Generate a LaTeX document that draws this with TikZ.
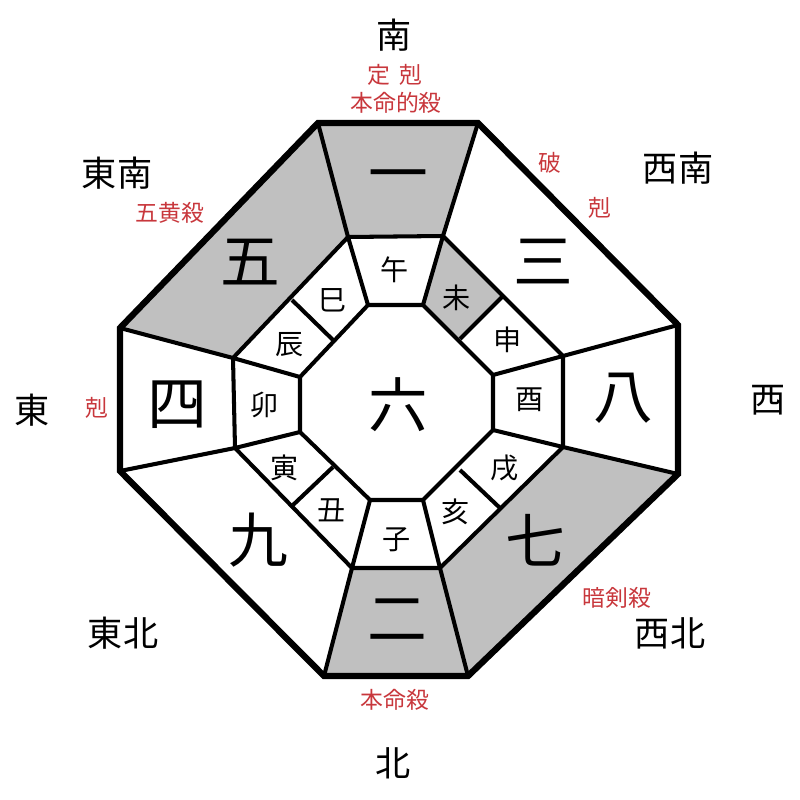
\documentclass[tikz,border=0pt]{standalone}
\usepackage{fontspec}
\newfontfamily\jp{Noto Sans CJK JP}
\usepackage{xcolor}
\definecolor{grigio}{RGB}{192,192,192}
\definecolor{rosso}{RGB}{200,55,60}

\begin{document}
\begin{tikzpicture}[
  x=0.02cm, y=-0.02cm,
  font=\jp,
  bordo/.style={draw=black, line width=3.6pt, line join=miter},
  divisione/.style={draw=black, line width=2.3pt, line join=miter},
  settore/.style={fill=grigio},
  direzione/.style={font=\jp\fontsize{20}{24}\selectfont, inner sep=0pt},
  nota/.style={text=rosso, font=\jp\fontsize{13}{16}\selectfont, inner sep=0pt},
  stella/.style={font=\jp\fontsize{34}{40}\selectfont, inner sep=0pt},
  ramo/.style={font=\jp\fontsize{16}{19}\selectfont, inner sep=0pt}
]
\useasboundingbox (0,0) rectangle (800,800);

% ---- vertici: ottagono esterno, anello medio, ottagono interno ---------
\foreach \n/\x/\y in {1/318/123, 2/478/123, 3/678/325, 4/678/474,
                      5/468/676, 6/324/676, 7/120/471, 8/120/328}
  \coordinate (o\n) at (\x,\y);
\foreach \n/\x/\y in {1/348/237, 2/443/236, 3/563/356, 4/563/447,
                      5/440/568, 6/352/568, 7/235/448, 8/233/358}
  \coordinate (m\n) at (\x,\y);
\foreach \n/\x/\y in {1/368/305, 2/423/305, 3/493/375, 4/493/430,
                      5/423/500, 6/370/500, 7/300/432, 8/300/377}
  \coordinate (i\n) at (\x,\y);
% divisioni dei lati obliqui
\foreach \n/\x/\y/\u/\v in {2/502/297/460/339, 4/500/508/460/470,
                            6/293/505/333/467, 8/292/300/333/340} {
  \coordinate (a\n) at (\x,\y);
  \coordinate (b\n) at (\u,\v);
}

% ---- settori grigi ---------------------------------------------------
\fill[settore] (o1) -- (o2) -- (m2) -- (m1) -- cycle;
\fill[settore] (o8) -- (o1) -- (m1) -- (m8) -- cycle;
\fill[settore] (o4) -- (o5) -- (m5) -- (m4) -- cycle;
\fill[settore] (o5) -- (o6) -- (m6) -- (m5) -- cycle;
\fill[settore] (m2) -- (a2) -- (b2) -- (i2) -- cycle;

% ---- linee -----------------------------------------------------------
\draw[divisione] (m1) -- (m2) -- (m3) -- (m4) -- (m5) -- (m6) -- (m7) -- (m8) -- cycle;
\draw[divisione] (i1) -- (i2) -- (i3) -- (i4) -- (i5) -- (i6) -- (i7) -- (i8) -- cycle;
\foreach \n in {1,...,8}
  \draw[divisione] (o\n) -- (m\n) -- (i\n);
\foreach \n in {2,4,6,8}
  \draw[divisione] (a\n) -- (b\n);
\draw[bordo] (o1) -- (o2) -- (o3) -- (o4) -- (o5) -- (o6) -- (o7) -- (o8) -- cycle;

% ---- stelle ------------------------------------------------------------
\foreach \nome/\x/\y/\t in {uno/398/183/一, tre/543/262/三, otto/623/398/八,
                            sette/535/540/七, due/397/620/二, nove/258/540/九,
                            quattro/177/405/四, cinque/250/262/五, sei/398/405/六}
  \node[stella] (\nome) at (\x,\y) {\t};

% ---- rami --------------------------------------------------------------
\foreach \nome/\x/\y/\t in {uma/395/270/午, hitsuji/457/298/未, saru/508/340/申,
                            tori/530/400/酉, inu/505/468/戌, i/456/512/亥,
                            ne/397/540/子, ushi/332/510/丑, tora/285/468/寅,
                            u/265/405/卯, tatsu/290/345/辰, mi/333/300/巳}
  \node[ramo] (\nome) at (\x,\y) {\t};

% ---- direzioni -----------------------------------------------------------
\node[direzione] (sud)     at (394,35)  {南};
\node[direzione] (sudest)  at (117,173) {東南};
\node[direzione] (sudovest) at (678,168) {西南};
\node[direzione] (est)     at (32,410)  {東};
\node[direzione] (ovest)   at (768,400) {西};
\node[direzione] (nordest) at (123,633) {東北};
\node[direzione] (nordovest) at (670,633) {西北};
\node[direzione] (nord)    at (393,763) {北};

% ---- note in rosso -------------------------------------------------------
\node[nota] (notasud)  at (395,75)  {定\hspace{5pt}剋};
\node[nota] (notasud2) at (396,103) {本命的殺};
\node[nota] (gooh)     at (170,213) {五黄殺};
\node[nota] (ha)       at (550,163) {破};
\node[nota] (koku)     at (600,208) {剋};
\node[nota] (kokuest)  at (97,408)  {剋};
\node[nota] (anken)    at (617,598) {暗剣殺};
\node[nota] (honmei)   at (395,700) {本命殺};

\end{tikzpicture}
\end{document}
